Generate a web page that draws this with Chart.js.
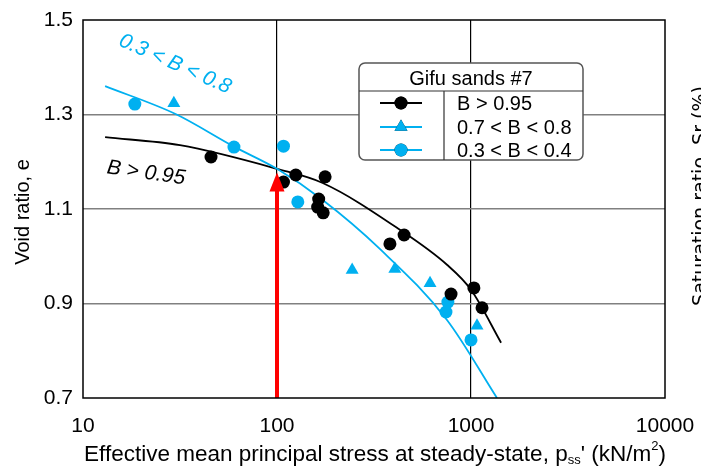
<!DOCTYPE html>
<html>
<head>
<meta charset="utf-8">
<script src="https://cdn.jsdelivr.net/npm/chart.js@4.4.1/dist/chart.umd.min.js"></script>
<style>
  html, body { margin: 0; padding: 0; background: #fff; }
</style>
</head>
<body>
<canvas id="chart" width="701" height="468"></canvas>
<script>
// values
const xTicks = [10, 100, 1000, 10000];
const yTicks = [0.7, 0.9, 1.1, 1.3, 1.5];

// B > 0.95
const blackP = [45.7, 108, 125, 177, 164, 162, 173, 382, 452, 789, 1035, 1140];
const blackE = [1.210, 1.157, 1.172, 1.168, 1.121, 1.104, 1.092, 1.026, 1.045, 0.920, 0.933, 0.891];
// 0.7 < B < 0.8
const triP = [29.4, 244, 405, 615, 1074];
const triE = [1.324, 0.971, 0.973, 0.943, 0.853];
// 0.3 < B < 0.4
const cirP = [18.5, 60, 108, 128, 760, 743, 1000];
const cirE = [1.322, 1.231, 1.233, 1.115, 0.903, 0.882, 0.823];

// fitted lines
const blackLineP = [13, 31.6, 100, 172, 430, 752, 1000, 1429];
const blackLineE = [1.252, 1.235, 1.185, 1.155, 1.056, 0.982, 0.929, 0.817];
const cyanLineP = [13, 30, 60, 100, 172, 340, 752, 1361];
const cyanLineE = [1.360, 1.301, 1.232, 1.185, 1.119, 1.015, 0.865, 0.700];

// red arrow at p = 100
const arrowP = 100;
const arrowFrom = 0.7;
const arrowTo = 1.177;

const seriesNames = ['B > 0.95', '0.7 < B < 0.8', '0.3 < B < 0.4'];
const BLACK = '#000000';
const CYAN = '#00b0f0';
const FONT = "'Liberation Sans', Arial, sans-serif";

const pts = (xs, ys) => xs.map((x, i) => ({ x: x, y: ys[i] }));

// frame, titles, notes, legend table and arrow
const decorPlugin = {
  id: 'decor',
  afterDatasetsDraw(chart) {
    const ctx = chart.ctx;
    const a = chart.chartArea;
    const xs = chart.scales.x, ys = chart.scales.y;

    // red arrow
    const ax = xs.getPixelForValue(arrowP);
    const ay0 = ys.getPixelForValue(arrowFrom);
    const ay1 = ys.getPixelForValue(arrowTo);
    ctx.save();
    ctx.strokeStyle = '#ff0000';
    ctx.fillStyle = '#ff0000';
    ctx.lineWidth = 4;
    ctx.beginPath();
    ctx.moveTo(ax, ay0);
    ctx.lineTo(ax, ay1 + 14);
    ctx.stroke();
    ctx.beginPath();
    ctx.moveTo(ax, ay1);
    ctx.lineTo(ax - 7.5, ay1 + 19);
    ctx.lineTo(ax + 7.5, ay1 + 19);
    ctx.closePath();
    ctx.fill();
    ctx.restore();

    // frame
    ctx.save();
    ctx.strokeStyle = '#000';
    ctx.lineWidth = 1.5;
    ctx.strokeRect(a.left, a.top, a.right - a.left, a.bottom - a.top);
    ctx.restore();

    // curve notes
    ctx.save();
    ctx.font = 'italic 21px ' + FONT;
    ctx.textAlign = 'center';
    ctx.textBaseline = 'middle';
    ctx.fillStyle = CYAN;
    ctx.translate(175, 64);
    ctx.rotate(24 * Math.PI / 180);
    ctx.fillText('0.3 < B < 0.8', 0, 0);
    ctx.restore();
    ctx.save();
    ctx.font = 'italic 21px ' + FONT;
    ctx.textAlign = 'center';
    ctx.textBaseline = 'middle';
    ctx.fillStyle = BLACK;
    ctx.translate(146, 173);
    ctx.rotate(8 * Math.PI / 180);
    ctx.fillText('B > 0.95', 0, 0);
    ctx.restore();

    // legend table
    const L = 359, R = 583, T = 63, B = 160, divX = 444, divY = 91;
    ctx.save();
    ctx.fillStyle = '#fff';
    ctx.strokeStyle = '#555';
    ctx.lineWidth = 1.5;
    ctx.beginPath();
    ctx.roundRect(L, T, R - L, B - T, 6);
    ctx.fill();
    ctx.stroke();
    ctx.beginPath();
    ctx.moveTo(L, divY);
    ctx.lineTo(R, divY);
    ctx.moveTo(divX, divY);
    ctx.lineTo(divX, B);
    ctx.strokeStyle = '#333';
    ctx.lineWidth = 1.2;
    ctx.stroke();
    ctx.fillStyle = '#000';
    ctx.font = '20px ' + FONT;
    ctx.textBaseline = 'middle';
    ctx.textAlign = 'center';
    ctx.fillText('Gifu sands #7', (L + R) / 2, 79);
    ctx.textAlign = 'left';
    const rowsY = [103, 127, 150];
    chart.data.datasets.slice(0, 3).forEach((ds, i) => {
      const y = rowsY[i];
      ctx.strokeStyle = ds.backgroundColor;
      ctx.lineWidth = 2;
      ctx.beginPath();
      ctx.moveTo(380, y);
      ctx.lineTo(422, y);
      ctx.stroke();
      Chart.helpers.drawPoint(ctx, {
        pointStyle: ds.pointStyle,
        radius: ds.pointRadius,
        borderWidth: 0
      }, 401, y);
      ctx.fillStyle = ds.backgroundColor;
      ctx.fill();
      ctx.fillStyle = '#000';
      ctx.fillText(seriesNames[i], 457, y + 1);
    });
    ctx.restore();
  },
  afterDraw(chart) {
    const ctx = chart.ctx;
    ctx.save();
    ctx.fillStyle = '#000';
    ctx.font = '20px ' + FONT;
    ctx.textBaseline = 'middle';

    // y axis title
    ctx.save();
    ctx.translate(23, 212);
    ctx.rotate(-Math.PI / 2);
    ctx.textAlign = 'center';
    ctx.fillText('Void ratio, e', 0, 0);
    ctx.restore();

    // x axis title with sub/superscript
    const parts = [
      ['Effective mean principal stress at steady-state, p', 22.5, 0],
      ['ss', 13, 5],
      ["' (kN/m", 22.5, 0],
      ['2', 13, -9],
      [')', 22.5, 0]
    ];
    let w = 0;
    parts.forEach(p => { ctx.font = p[1] + 'px ' + FONT; w += ctx.measureText(p[0]).width; });
    let x = 375 - w / 2;
    ctx.textAlign = 'left';
    parts.forEach(p => {
      ctx.font = p[1] + 'px ' + FONT;
      ctx.fillText(p[0], x, 455 + p[2]);
      x += ctx.measureText(p[0]).width;
    });

    // clipped secondary axis title at the right edge
    ctx.save();
    ctx.font = "19px 'DejaVu Sans', sans-serif";
    ctx.translate(706, 196);
    ctx.rotate(-Math.PI / 2);
    ctx.textAlign = 'center';
    ctx.textBaseline = 'alphabetic';
    ctx.fillText('Saturation ratio, Sr (%)', 0, 0);
    ctx.restore();
    ctx.restore();
  }
};

new Chart(document.getElementById('chart'), {
  type: 'scatter',
  data: {
    datasets: [
      {
        label: seriesNames[0],
        data: pts(blackP, blackE),
        backgroundColor: BLACK,
        borderColor: BLACK,
        pointStyle: 'circle',
        pointRadius: 6.5,
        borderWidth: 0,
        order: 1
      },
      {
        label: seriesNames[1],
        data: pts(triP, triE),
        backgroundColor: CYAN,
        borderColor: CYAN,
        pointStyle: 'triangle',
        pointRadius: 7.5,
        borderWidth: 0,
        order: 2
      },
      {
        label: seriesNames[2],
        data: pts(cirP, cirE),
        backgroundColor: CYAN,
        borderColor: CYAN,
        pointStyle: 'circle',
        pointRadius: 6.5,
        borderWidth: 0,
        order: 3
      },
      {
        label: 'fit B > 0.95',
        data: pts(blackLineP, blackLineE),
        showLine: true,
        borderColor: BLACK,
        borderWidth: 1.8,
        pointRadius: 0,
        cubicInterpolationMode: 'monotone',
        order: 5
      },
      {
        label: 'fit 0.3 < B < 0.8',
        data: pts(cyanLineP, cyanLineE),
        showLine: true,
        borderColor: CYAN,
        borderWidth: 1.8,
        pointRadius: 0,
        cubicInterpolationMode: 'monotone',
        order: 4
      }
    ]
  },
  options: {
    responsive: false,
    animation: false,
    layout: { padding: { top: 20, right: 36, left: 0, bottom: 0 } },
    plugins: {
      legend: { display: false },
      tooltip: { enabled: false }
    },
    scales: {
      x: {
        type: 'logarithmic',
        min: 10,
        max: 10000,
        afterBuildTicks: s => { s.ticks = xTicks.map(v => ({ value: v })); },
        afterFit: s => { s.height = 70; s.paddingLeft = 0; s.paddingRight = 0; },
        ticks: {
          color: '#000',
          font: { family: FONT, size: 21 },
          padding: 16,
          maxRotation: 0,
          callback: v => String(v)
        },
        grid: {
          color: c => (c.tick && (c.tick.value === 10 || c.tick.value === 10000)) ? 'rgba(0,0,0,0)' : '#000',
          lineWidth: 1.2,
          drawTicks: false
        },
        border: { display: false }
      },
      y: {
        min: 0.7,
        max: 1.5,
        afterBuildTicks: s => { s.ticks = yTicks.map(v => ({ value: v })); },
        afterFit: s => { s.width = 83; s.paddingTop = 0; s.paddingBottom = 0; },
        ticks: {
          color: '#000',
          font: { family: FONT, size: 21 },
          padding: 10,
          callback: v => v.toFixed(1)
        },
        grid: {
          color: c => (c.tick && (c.tick.value === 0.7 || c.tick.value === 1.5)) ? 'rgba(0,0,0,0)' : '#808080',
          lineWidth: 1.5,
          drawTicks: false
        },
        border: { display: false }
      }
    }
  },
  plugins: [decorPlugin]
});
</script>
</body>
</html>
